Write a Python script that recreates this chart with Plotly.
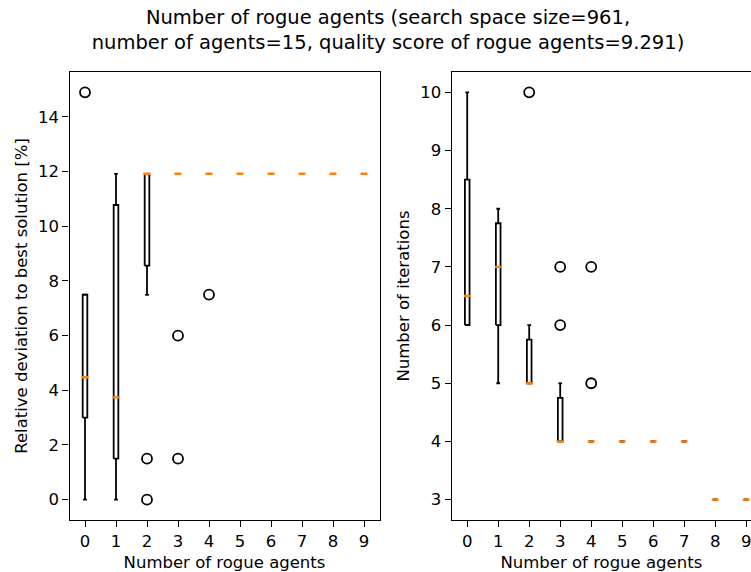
import plotly.graph_objects as go

# ---------------- data ----------------
categories = [0, 1, 2, 3, 4, 5, 6, 7, 8, 9]

# left panel: relative deviation to best solution [%]
dev_q1 = [3.0, 1.5, 8.56, 11.92, 11.92, 11.92, 11.92, 11.92, 11.92, 11.92]
dev_median = [4.48, 3.74, 11.92, 11.92, 11.92, 11.92, 11.92, 11.92, 11.92, 11.92]
dev_q3 = [7.5, 10.78, 11.92, 11.92, 11.92, 11.92, 11.92, 11.92, 11.92, 11.92]
dev_whisker_low = [0.0, 0.0, 7.49, 11.92, 11.92, 11.92, 11.92, 11.92, 11.92, 11.92]
dev_whisker_high = [7.5, 11.92, 11.92, 11.92, 11.92, 11.92, 11.92, 11.92, 11.92, 11.92]
dev_outlier_x = [0, 2, 2, 3, 3, 4]
dev_outlier_y = [14.9, 1.5, 0.0, 6.0, 1.5, 7.5]

# right panel: number of iterations
it_q1 = [6, 6, 5, 4, 4, 4, 4, 4, 3, 3]
it_median = [6.5, 7, 5, 4, 4, 4, 4, 4, 3, 3]
it_q3 = [8.5, 7.75, 5.75, 4.75, 4, 4, 4, 4, 3, 3]
it_whisker_low = [6, 5, 5, 4, 4, 4, 4, 4, 3, 3]
it_whisker_high = [10, 8, 6, 5, 4, 4, 4, 4, 3, 3]
it_outlier_x = [2, 3, 3, 4, 4]
it_outlier_y = [10, 7, 6, 7, 5]

title_text = ("Number of rogue agents (search space size=961,<br>"
              "number of agents=15, quality score of rogue agents=9.291)")
x_title = "Number of rogue agents"
left_y_title = "Relative deviation to best solution [%]"
right_y_title = "Number of iterations"

# ---------------- styling ----------------
FONT = "DejaVu Sans"
BLACK = "#000000"
ORANGE = "#ff7f0e"
BOX_HW = 0.075
CAP_HW = 0.06
MED_HW = 0.112
LW = 1.8
MED_LW = 2.4
FS = 16.5

W, H = 751, 572


def box_traces(xs, q1, med, q3, wlo, whi, ox, oy, xa, ya):
    bx, by = [], []
    for x, a, b, lo, hi in zip(xs, q1, q3, wlo, whi):
        # box
        bx += [x - BOX_HW, x + BOX_HW, x + BOX_HW, x - BOX_HW, x - BOX_HW, None]
        by += [a, a, b, b, a, None]
        # whiskers
        bx += [x, x, None, x, x, None]
        by += [lo, a, None, b, hi, None]
        # caps
        bx += [x - CAP_HW, x + CAP_HW, None, x - CAP_HW, x + CAP_HW, None]
        by += [lo, lo, None, hi, hi, None]
    mx, my = [], []
    for x, m in zip(xs, med):
        mx += [x - MED_HW, x + MED_HW, None]
        my += [m, m, None]
    return [
        go.Scatter(x=bx, y=by, mode="lines", line=dict(color=BLACK, width=LW),
                   xaxis=xa, yaxis=ya, showlegend=False, hoverinfo="skip"),
        go.Scatter(x=mx, y=my, mode="lines", line=dict(color=ORANGE, width=MED_LW),
                   xaxis=xa, yaxis=ya, showlegend=False, hoverinfo="skip"),
        go.Scatter(x=ox, y=oy, mode="markers",
                   marker=dict(symbol="circle-open", size=10, color=BLACK,
                               line=dict(width=1.8, color=BLACK)),
                   xaxis=xa, yaxis=ya, showlegend=False),
    ]


fig = go.Figure()
for t in box_traces(categories, dev_q1, dev_median, dev_q3, dev_whisker_low,
                    dev_whisker_high, dev_outlier_x, dev_outlier_y, "x", "y"):
    fig.add_trace(t)
for t in box_traces(categories, it_q1, it_median, it_q3, it_whisker_low,
                    it_whisker_high, it_outlier_x, it_outlier_y, "x2", "y2"):
    fig.add_trace(t)

# pixel geometry
L1, R1 = 69.5, 379.5
L2 = 451.7
TOP, BOT = 72, 520
PX_PER_UNIT = (R1 - L1) / 10.0
x2_max = -0.5 + (W - L2) / PX_PER_UNIT

ydom = [(H - BOT) / H, (H - TOP) / H]

axis_common = dict(
    showgrid=False, zeroline=False, showline=True, linecolor=BLACK, linewidth=1.3,
    ticks="outside", ticklen=6, tickwidth=1.3, tickcolor=BLACK,
    tickfont=dict(family=FONT, size=FS, color=BLACK), automargin=False,
    ticklabeloverflow="allow",
)

fig.update_layout(
    width=W, height=H,
    margin=dict(l=0, r=0, t=0, b=0),
    paper_bgcolor="white", plot_bgcolor="white",
    font=dict(family=FONT, size=FS, color=BLACK),
    title=dict(text=title_text, x=388 / W, xref="container", xanchor="center",
               y=1 - 24 / H, yref="container", yanchor="top",
               font=dict(family=FONT, size=19.5, color=BLACK)),
    xaxis=dict(domain=[L1 / W, R1 / W], range=[-0.5, 9.5], tickmode="array",
               tickvals=categories, ticktext=[str(c) for c in categories],
               mirror=True, anchor="y",
               title=dict(text=x_title, font=dict(family=FONT, size=FS), standoff=6),
               **axis_common),
    yaxis=dict(domain=ydom, range=[-0.745, 15.645], tickmode="linear", tick0=0, dtick=2,
               mirror=True, anchor="x",
               title=dict(text=left_y_title, font=dict(family=FONT, size=FS), standoff=6),
               **axis_common),
    xaxis2=dict(domain=[L2 / W, 1.0], range=[-0.5, x2_max], tickmode="array",
                tickvals=categories, ticktext=[str(c) for c in categories],
                mirror=True, anchor="y2",
                title=dict(text=x_title, font=dict(family=FONT, size=FS), standoff=6),
                **axis_common),
    yaxis2=dict(domain=ydom, range=[2.65, 10.35], tickmode="linear", tick0=3, dtick=1,
                mirror=False, anchor="x2",
                title=dict(text=right_y_title, font=dict(family=FONT, size=FS), standoff=6),
                **axis_common),
)

fig.write_html("out.html",
               config={"displayModeBar": False},
               post_script="document.body.style.margin='0';")
